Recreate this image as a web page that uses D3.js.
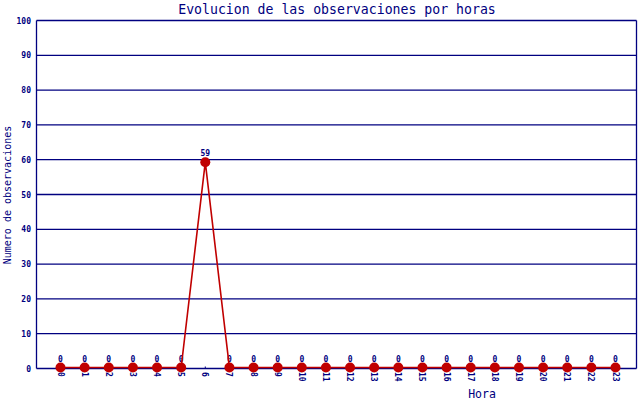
<!DOCTYPE html>
<html><head><meta charset="utf-8">
<script src="https://cdn.jsdelivr.net/npm/d3@7"></script>
<style>body{margin:0;background:#fff}svg{display:block}text{font-family:"DejaVu Sans Mono","Liberation Mono",monospace}</style>
</head><body><svg id="c" width="640" height="400"></svg>
<script>
const hours = d3.range(0, 24).map(String);
const values = [0,0,0,0,0,0,59,0,0,0,0,0,0,0,0,0,0,0,0,0,0,0,0,0];
const yTicks = [0,10,20,30,40,50,60,70,80,90,100];
const title = "Evolucion de las observaciones por horas";
const xTitle = "Hora";
const yTitle = "Numero de observaciones";

const navy = "#000080", red = "#c00000";
const svg = d3.select("#c");
const L = 36.5, R = 636.5, T = 20.5, B = 368.5;
const x = d3.scalePoint().domain(hours).range([60.5, 615.5]);
const y = d3.scaleLinear().domain([0, 100]).range([B, T]);

// gridlines
svg.append("g").selectAll("line").data(yTicks).join("line")
  .attr("x1", L).attr("x2", R).attr("y1", d => y(d)).attr("y2", d => y(d))
  .attr("stroke", navy).attr("stroke-width", 1.3);
svg.append("line").attr("x1", L).attr("x2", L).attr("y1", T).attr("y2", B).attr("stroke", navy).attr("stroke-width", 1.3);
svg.append("line").attr("x1", R).attr("x2", R).attr("y1", T).attr("y2", B).attr("stroke", navy).attr("stroke-width", 1.3);

// y tick labels
svg.append("g").selectAll("text").data(yTicks).join("text")
  .attr("x", 31).attr("y", d => y(d) + 3).attr("text-anchor", "end")
  .attr("font-size", 8).attr("font-weight", "bold").attr("fill", navy).text(d => d);

// x tick labels rotated
svg.append("g").selectAll("text").data(hours).join("text")
  .attr("transform", d => `translate(${x(d) - 3},372) rotate(90)`)
  .attr("font-size", 8).attr("font-weight", "bold").attr("fill", navy).text(d => d);
svg.append("g").selectAll("line").data(hours).join("line")
  .attr("x1", d => x(d)).attr("x2", d => x(d)).attr("y1", B - 2).attr("y2", B)
  .attr("stroke", navy).attr("stroke-width", 1);

// value labels
svg.append("g").selectAll("text").data(values).join("text")
  .attr("x", (d, i) => x(hours[i])).attr("y", (d, i) => y(d) - 7)
  .attr("text-anchor", "middle").attr("font-size", 8).attr("font-weight", "bold")
  .attr("fill", navy).text(d => d);

// line
const line = d3.line().x((d, i) => x(hours[i])).y(d => y(d) - 1);
svg.append("path").datum(values).attr("d", line).attr("fill", "none")
  .attr("stroke", red).attr("stroke-width", 1.6);
svg.append("g").selectAll("circle").data(values).join("circle")
  .attr("cx", (d, i) => x(hours[i])).attr("cy", d => y(d) - 1).attr("r", 5).attr("fill", red);

// titles
svg.append("text").attr("x", 337).attr("y", 14).attr("text-anchor", "middle")
  .attr("font-size", 13.2).attr("fill", navy).text(title);
svg.append("text").attr("x", 482).attr("y", 398).attr("text-anchor", "middle")
  .attr("font-size", 11.5).attr("fill", navy).text(xTitle);
svg.append("text").attr("transform", "translate(11,195) rotate(-90)").attr("text-anchor", "middle")
  .attr("font-size", 10).attr("fill", navy).text(yTitle);
</script></body></html>
